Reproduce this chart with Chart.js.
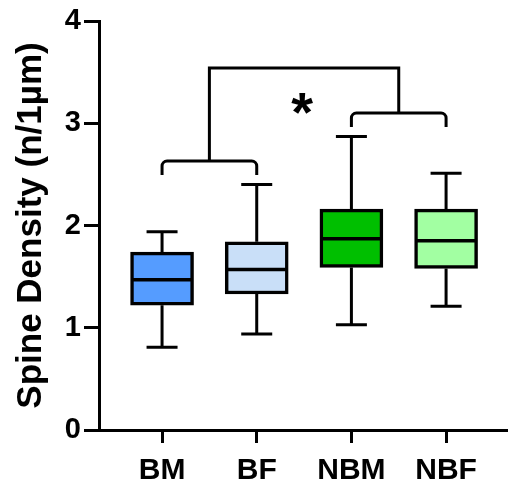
<!DOCTYPE html>
<html>
<head>
<meta charset="utf-8">
<script src="https://cdn.jsdelivr.net/npm/chart.js@4.4.0/dist/chart.umd.min.js"></script>
<style>
  html, body { margin: 0; padding: 0; background: #fff; }
  #wrap { width: 508px; height: 487px; }
</style>
</head>
<body>
<div id="wrap"><canvas id="chart" width="508" height="487"></canvas></div>
<script>
// groups and box plot statistics (Spine Density, n/1um)
var categories = ["BM", "BF", "NBM", "NBF"];
var whiskerLow = [0.81, 0.94, 1.03, 1.21];
var q1 = [1.22, 1.33, 1.59, 1.58];
var median = [1.47, 1.57, 1.87, 1.85];
var q3 = [1.74, 1.84, 2.16, 2.16];
var whiskerHigh = [1.94, 2.40, 2.87, 2.51];
var yTicks = [0, 1, 2, 3, 4];

// significance brackets (in axis units)
var pairs = [[0, 1], [2, 3]];
var pairLevels = [2.63, 3.10];
var topLevel = 3.54;
var starLabel = "*";

var boxColors = ["#559cff", "#c9dff8", "#00bf00", "#a2ffa2"];

Chart.defaults.font.family = "'Liberation Sans', Arial, sans-serif";
Chart.defaults.color = "#000";

var boxPlot = {
  id: "boxPlot",
  beforeDatasetsDraw: function(chart) {
    var ctx = chart.ctx, xs = chart.scales.x, ys = chart.scales.y;
    ctx.save();
    ctx.strokeStyle = "#000";
    ctx.lineWidth = 3;
    for (var i = 0; i < categories.length; i++) {
      var x = xs.getPixelForValue(i);
      var lo = ys.getPixelForValue(whiskerLow[i]);
      var hi = ys.getPixelForValue(whiskerHigh[i]);
      ctx.beginPath();
      ctx.moveTo(x, lo); ctx.lineTo(x, ys.getPixelForValue(q1[i]));
      ctx.moveTo(x, ys.getPixelForValue(q3[i])); ctx.lineTo(x, hi);
      ctx.moveTo(x - 15.5, lo); ctx.lineTo(x + 15.5, lo);
      ctx.moveTo(x - 15.5, hi); ctx.lineTo(x + 15.5, hi);
      ctx.stroke();
    }
    ctx.restore();
  },
  afterDatasetsDraw: function(chart) {
    var ctx = chart.ctx, xs = chart.scales.x, ys = chart.scales.y;
    ctx.save();
    ctx.strokeStyle = "#000";
    ctx.lineWidth = 3.5;
    for (var i = 0; i < categories.length; i++) {
      var x = xs.getPixelForValue(i);
      var m = ys.getPixelForValue(median[i]);
      ctx.beginPath();
      ctx.moveTo(x - 30, m); ctx.lineTo(x + 30, m);
      ctx.stroke();
    }

    // brackets
    ctx.lineWidth = 3;
    var legDrop = 14;
    var mids = [];
    pairs.forEach(function(p, k) {
      var x1 = xs.getPixelForValue(p[0]), x2 = xs.getPixelForValue(p[1]);
      var y = ys.getPixelForValue(pairLevels[k]);
      ctx.beginPath();
      ctx.moveTo(x1, y + legDrop);
      ctx.arcTo(x1, y, x2, y, 5);
      ctx.arcTo(x2, y, x2, y + legDrop, 5);
      ctx.lineTo(x2, y + legDrop);
      ctx.stroke();
      mids.push({ x: xs.getPixelForValue((p[0] + p[1]) / 2), y: y });
    });
    var yt = ys.getPixelForValue(topLevel);
    ctx.beginPath();
    ctx.moveTo(mids[0].x, mids[0].y);
    ctx.lineTo(mids[0].x, yt);
    ctx.lineTo(mids[1].x, yt);
    ctx.lineTo(mids[1].x, mids[1].y);
    ctx.stroke();

    ctx.fillStyle = "#000";
    ctx.font = "bold 56px 'Liberation Sans', Arial, sans-serif";
    ctx.textAlign = "center";
    ctx.textBaseline = "alphabetic";
    ctx.fillText(starLabel, xs.getPixelForValue(1.5) - 2, ys.getPixelForValue(topLevel) + 63);
    ctx.restore();
  }
};

var ctx = document.getElementById("chart").getContext("2d");
var chart = new Chart(ctx, {
  type: "bar",
  data: {
    datasets: [
      {
        data: categories.map(function(c, i) { return { x: i, y: [q1[i], q3[i]] }; }),
        backgroundColor: boxColors,
        borderColor: "#000",
        borderWidth: 3.5,
        borderSkipped: false,
        barThickness: 63
      }
    ]
  },
  options: {
    responsive: false,
    animation: false,
    layout: { padding: { top: 21, right: 0, bottom: 0, left: 0 } },
    plugins: { legend: { display: false }, tooltip: { enabled: false } },
    scales: {
      x: {
        type: "linear",
        offset: false,
        min: -0.666,
        max: 3.654,
        afterBuildTicks: function(s) { s.ticks = categories.map(function(c, i) { return { value: i }; }); },
        afterFit: function(s) { s.height = 57; },
        ticks: {
          callback: function(v) { return categories[v]; },
          font: { size: 30, weight: "bold" },
          color: "#000",
          padding: 10,
          autoSkip: false,
          maxRotation: 0
        },
        grid: { offset: false, drawOnChartArea: false, drawTicks: true, tickLength: 13, tickWidth: 3, tickColor: "#000" },
        border: { display: true, width: 3, color: "#000" }
      },
      y: {
        min: 0,
        max: 4,
        afterBuildTicks: function(s) { s.ticks = yTicks.map(function(v) { return { value: v }; }); },
        afterFit: function(s) { s.width = 99; },
        ticks: {
          font: { size: 29, weight: "bold" },
          color: "#000",
          padding: 3
        },
        title: {
          display: true,
          text: "Spine Density (n/1\u00b5m)",
          font: { size: 35, weight: "bold" },
          color: "#000",
          padding: { top: 10, bottom: 0 }
        },
        grid: { drawOnChartArea: false, drawTicks: true, tickLength: 15, tickWidth: 3, tickColor: "#000" },
        border: { display: true, width: 3, color: "#000" }
      }
    }
  },
  plugins: [boxPlot]
});
</script>
</body>
</html>
